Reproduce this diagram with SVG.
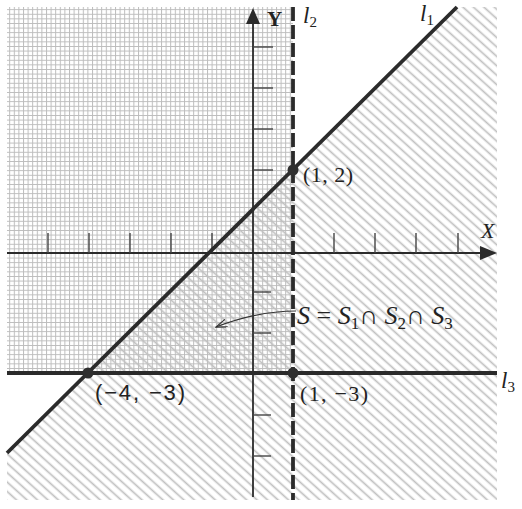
<svg xmlns="http://www.w3.org/2000/svg" width="522" height="509" viewBox="0 0 522 509">
<style>
.ser{font-family:"Liberation Serif","DejaVu Serif",serif;fill:#222}
.san{font-family:"Liberation Sans","DejaVu Sans",sans-serif;fill:#222}
.it{font-style:italic}
.bold{stroke:#2b2b2b;stroke-width:3.8;fill:none;stroke-linecap:butt}
.axis{stroke:#2b2b2b;stroke-width:1.8;fill:none}
.tick{stroke:#444;stroke-width:1.4}
.dot{fill:#2f2f2f}
</style>
<defs>
<pattern id="grid" width="4.6" height="4.6" patternUnits="userSpaceOnUse">
<path d="M0 0.5H4.6M0.5 0V4.6" stroke="#bcbcbc" stroke-width="1" fill="none"/>
</pattern>
<pattern id="hatch" width="8" height="7" patternUnits="userSpaceOnUse" patternTransform="rotate(42)">
<line x1="0" y1="3.5" x2="8" y2="3.5" stroke="#c0c0c0" stroke-width="1.7"/>
</pattern>
<marker id="open" markerWidth="12" markerHeight="10" refX="11" refY="4" orient="auto" markerUnits="userSpaceOnUse">
<path d="M0 0L11 4L0 8" fill="none" stroke="#333" stroke-width="1.2"/>
</marker>
</defs>
<rect width="522" height="509" fill="#fff"/>
<g id="regions">
<rect id="S2S3" x="7" y="7" width="286" height="366" fill="url(#grid)"/>
<polygon id="S1" points="7,453 457,7 497,7 497,500 7,500" fill="url(#hatch)"/>
</g>
<g id="axes">
<line class="axis" x1="7" y1="253" x2="484" y2="253"/>
<polygon points="497,253 480,246 480,260" fill="#2b2b2b"/>
<line class="axis" x1="253" y1="20" x2="253" y2="497"/>
<polygon points="253,8 246,24 260,24" fill="#2b2b2b"/>
<g class="tick">
<line x1="48" y1="233" x2="48" y2="253"/>
<line x1="89" y1="233" x2="89" y2="253"/>
<line x1="130" y1="233" x2="130" y2="253"/>
<line x1="171" y1="233" x2="171" y2="253"/>
<line x1="212" y1="233" x2="212" y2="253"/>
<line x1="334" y1="233" x2="334" y2="253"/>
<line x1="375" y1="233" x2="375" y2="253"/>
<line x1="416" y1="233" x2="416" y2="253"/>
<line x1="458" y1="233" x2="458" y2="253"/>
<line x1="253" y1="47" x2="273" y2="47"/>
<line x1="253" y1="88" x2="273" y2="88"/>
<line x1="253" y1="129" x2="273" y2="129"/>
<line x1="253" y1="170" x2="273" y2="170"/>
<line x1="253" y1="292" x2="271" y2="292"/>
<line x1="253" y1="333" x2="271" y2="333"/>
<line x1="253" y1="415" x2="271" y2="415"/>
<line x1="253" y1="456" x2="271" y2="456"/>
</g>
<text class="ser" x="267" y="26" font-size="21" font-weight="bold">Y</text>
<text class="ser it" x="481" y="238" font-size="22">X</text>
</g>
<g id="lines">
<line id="l1" class="bold" x1="7" y1="453" x2="457" y2="7"/>
<line id="l2" class="bold" x1="293" y1="7" x2="293" y2="500" stroke-dasharray="14 4"/>
<line id="l3" class="bold" x1="7" y1="373" x2="497" y2="373"/>
<text class="ser it" x="420" y="21" font-size="23">l<tspan font-size="15" dy="4" font-style="normal">1</tspan></text>
<text class="ser it" x="303" y="23" font-size="23">l<tspan font-size="15" dy="4" font-style="normal">2</tspan></text>
<text class="ser it" x="501" y="388" font-size="23">l<tspan font-size="15" dy="4" font-style="normal">3</tspan></text>
</g>
<g id="p12">
<circle class="dot" cx="293" cy="170" r="5.5"/>
<text class="ser" x="303" y="182" font-size="22" textLength="50">(1, 2)</text>
</g>
<g id="p1m3">
<circle class="dot" cx="293" cy="373" r="5.5"/>
<text class="ser" x="300" y="401" font-size="22" textLength="68">(1, −3)</text>
</g>
<g id="pm4m3">
<circle class="dot" cx="88" cy="373" r="5.5"/>
<text class="san" x="95" y="400" font-size="22" textLength="90">(−4, −3)</text>
</g>
<g id="connectors">
<path d="M296 311 Q258 311 216 327" fill="none" stroke="#333" stroke-width="1.2" marker-end="url(#open)"/>
</g>
<g id="Slabel">
<text class="ser it" x="297" y="324" font-size="26">S <tspan font-style="normal">=</tspan> S<tspan font-size="17" dy="5" font-style="normal">1</tspan><tspan dy="-5" font-style="normal">∩</tspan> S<tspan font-size="17" dy="5" font-style="normal">2</tspan><tspan dy="-5" font-style="normal">∩</tspan> S<tspan font-size="17" dy="5" font-style="normal">3</tspan></text>
</g>
</svg>
